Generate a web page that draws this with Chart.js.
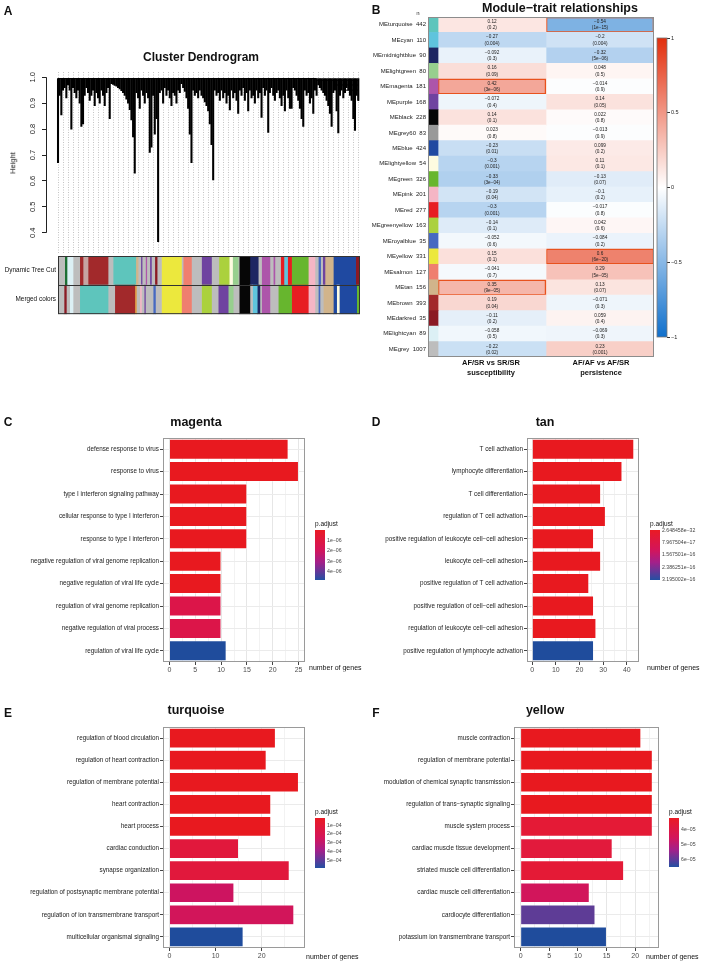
<!DOCTYPE html>
<html>
<head>
<meta charset="utf-8">
<title>WGCNA modules</title>
<script src="https://cdn.jsdelivr.net/npm/chart.js@4.4.1/dist/chart.umd.min.js"></script>
<style>
  body { margin: 0; width: 702px; height: 962px; position: relative; overflow: hidden; background: #fff; font-family: "Liberation Sans", Arial, sans-serif; color: #111; }
  canvas { position: absolute; }
  .t { position: absolute; white-space: nowrap; line-height: 1; will-change: transform; }
</style>
</head>
<body>
<script>
// ---------- Panel A: dendrogram ----------
const leafStep = 5;
const leafBottoms = [
  0.67, 0.93, 0.855, 0.95, 0.96, 0.92, 0.97, 0.95, 0.80, 0.96,
  0.94, 0.92, 0.95, 0.90, 0.81, 0.82, 0.93, 0.96, 0.94, 0.91,
  0.93, 0.95, 0.89, 0.94, 0.92, 0.90, 0.95, 0.93, 0.89, 0.94,
  0.96, 0.84, 0.975, 0.972, 0.968, 0.965, 0.96, 0.955, 0.948, 0.94,
  0.93, 0.915, 0.90, 0.875, 0.835, 0.77, 0.63, 0.94, 0.92, 0.88,
  0.95, 0.93, 0.90, 0.94, 0.92, 0.71, 0.73, 0.93, 0.78, 0.84,
  0.366, 0.94, 0.95, 0.90, 0.96, 0.93, 0.95, 0.92, 0.89, 0.94,
  0.93, 0.90, 0.95, 0.94, 0.975, 0.96, 0.945, 0.92, 0.88, 0.78,
  0.67, 0.95, 0.93, 0.94, 0.92, 0.95, 0.93, 0.92, 0.905, 0.89,
  0.87, 0.82, 0.74, 0.604, 0.95, 0.93, 0.94, 0.91, 0.95, 0.92,
  0.94, 0.90, 0.93, 0.874, 0.95, 0.92, 0.94, 0.91, 0.86, 0.95,
  0.93, 0.96, 0.91, 0.94, 0.87, 0.95, 0.92, 0.93, 0.90, 0.95,
  0.92, 0.94, 0.845, 0.96, 0.93, 0.95, 0.787, 0.94, 0.96, 0.93,
  0.91, 0.94, 0.95, 0.92, 0.89, 0.93, 0.87, 0.95, 0.92, 0.88,
  0.88, 0.96, 0.95, 0.93, 0.91, 0.88, 0.84, 0.81, 0.95, 0.93,
  0.94, 0.90, 0.92, 0.86, 0.95, 0.93, 0.97, 0.96, 0.95, 0.94,
  0.93, 0.91, 0.89, 0.86, 0.81, 0.94, 0.95, 0.87, 0.785, 0.93,
  0.95, 0.92, 0.94, 0.96, 0.95, 0.93, 0.91, 0.84, 0.795, 0.93,
  0.91
];
const dendroTop = 0.995;
const mergeSegments = [
  [0, 0.995, 775, 0.995],
  [775, 0.988, 900, 0.988],
  [825, 0.97, 900, 0.97],
  [860, 0.95, 900, 0.95],
  [900, 0.988, 900, 0.91]
];
const heightTicks = [0.4, 0.5, 0.6, 0.7, 0.8, 0.9, 1.0];

const colorRowLabels = ['Dynamic Tree Cut', 'Merged colors'];
const dynamicCutColors = ['grey','darkgreen','lightcyan','grey','brown','greypink','brown','grey','turquoise','tan','grey','purple','grey','magenta','grey','purple','grey','darkred','grey','yellow','grey','salmon','grey','purple','grey','greenyellow','lightyellow','lightgreen','grey','black','midnightblue','grey','magenta','grey','magenta','grey','red','cyan','red','green','pink','grey','royalblue','grey','purple','tan','blue','darkred'];
const dynamicCutEnds = [20,27,45,65,75,90,150,165,233,240,248,252,262,266,275,280,290,297,310,370,375,400,430,460,482,513,523,540,543,575,600,610,635,645,650,667,677,688,700,750,770,780,787,793,800,825,892,905];
const mergedColors = ['grey','darkred','grey','lightcyan','grey','turquoise','grey','brown','orange','grey','pink','grey','purple','grey','royalblue','grey','yellow','salmon','grey','greenyellow','grey','purple','lightgreen','grey','black','grey','cyan','midnightblue','grey','magenta','grey','green','red','pink','grey','royalblue','grey','tan','blue','lightyellow','blue','green'];
const mergedEnds = [18,25,35,45,65,150,170,230,235,245,250,258,262,285,292,310,370,400,430,460,480,510,525,543,575,583,597,605,610,635,660,700,750,770,780,785,795,825,835,843,895,905];

const palette = {
  grey: '#bdbdbd', greypink: '#c6a4a2', darkgreen: '#1d6f35', lightcyan: '#dcf0f5', brown: '#a2292b',
  turquoise: '#5ec5bc', tan: '#d1b48b', orange: '#dd9b45', purple: '#6f43a0', magenta: '#ad55aa',
  darkred: '#8b1a24', yellow: '#ece83d', salmon: '#ef7f6f', greenyellow: '#abd13d', lightyellow: '#fdfbe0',
  lightgreen: '#97cf8e', black: '#060606', midnightblue: '#1d2662', red: '#e71d22', cyan: '#5fc4dd',
  green: '#67b62e', pink: '#f5b6c5', royalblue: '#4669c1', blue: '#1f49a1', grey60: '#999999'
};

// ---------- Panel B: module-trait heatmap ----------
const modules = ['MEturquoise','MEcyan','MEmidnightblue','MElightgreen','MEmagenta','MEpurple','MEblack','MEgrey60','MEblue','MElightyellow','MEgreen','MEpink','MEred','MEgreenyellow','MEroyalblue','MEyellow','MEsalmon','MEtan','MEbrown','MEdarkred','MElightcyan','MEgrey'];
const moduleSizes = [442,110,90,80,181,168,228,83,424,54,326,201,277,163,35,331,127,156,393,35,89,1007];
const corrSusc = [0.12,-0.27,-0.092,0.16,0.42,-0.072,0.14,0.023,-0.23,-0.3,-0.33,-0.19,-0.3,-0.14,-0.052,0.15,-0.041,0.35,0.19,-0.11,-0.058,-0.22];
const pSusc = ['0.2','0.004','0.3','0.09','3e−06','0.4','0.1','0.8','0.01','0.001','3e−04','0.04','0.001','0.1','0.6','0.1','0.7','9e−05','0.04','0.2','0.5','0.02'];
const corrPers = [-0.54,-0.2,-0.32,0.048,-0.014,0.14,0.022,-0.013,0.099,0.11,-0.13,-0.1,-0.017,0.042,-0.084,0.6,0.29,0.13,-0.071,0.059,-0.069,0.23];
const pPers = ['1e−15','0.004','5e−06','0.5','0.9','0.05','0.8','0.9','0.2','0.1','0.07','0.2','0.8','0.6','0.2','6e−20','5e−05','0.07','0.3','0.4','0.3','0.001'];
const highlightSusc = ['MEmagenta', 'MEtan'];
const highlightPers = ['MEturquoise', 'MEyellow'];
const traitLabels = [['AF/SR vs SR/SR', 'susceptibility'], ['AF/AF vs AF/SR', 'persistence']];
const corrTicks = [-1, -0.5, 0, 0.5, 1];

// ---------- Panels C-F: GO enrichment ----------
const RED = '#e8191f', BLUE = '#1f4c9c';
const magentaTerms = ['defense response to virus','response to virus','type I interferon signaling pathway','cellular response to type I interferon','response to type I interferon','negative regulation of viral genome replication','negative regulation of viral life cycle','regulation of viral genome replication','negative regulation of viral process','regulation of viral life cycle'];
const magentaCounts = [23,25,15,15,15,10,10,10,10,11];
const magentaColors = [RED,RED,RED,RED,RED,RED,RED,'#dc1549','#dc1549',BLUE];

const tanTerms = ['T cell activation','lymphocyte differentiation','T cell differentiation','regulation of T cell activation','positive regulation of leukocyte cell−cell adhesion','leukocyte cell−cell adhesion','positive regulation of T cell activation','positive regulation of cell−cell adhesion','regulation of leukocyte cell−cell adhesion','positive regulation of lymphocyte activation'];
const tanCounts = [43,38,29,31,26,29,24,26,27,26];
const tanColors = [RED,RED,RED,RED,RED,RED,RED,RED,RED,BLUE];

const turquoiseTerms = ['regulation of blood circulation','regulation of heart contraction','regulation of membrane potential','heart contraction','heart process','cardiac conduction','synapse organization','regulation of postsynaptic membrane potential','regulation of ion transmembrane transport','multicellular organismal signaling'];
const turquoiseCounts = [23,21,28,22,22,15,26,14,27,16];
const turquoiseColors = [RED,RED,RED,RED,RED,'#e1183c','#e1183c','#cd1460','#d2155a',BLUE];

const yellowTerms = ['muscle contraction','regulation of membrane potential','modulation of chemical synaptic transmission','regulation of trans−synaptic signaling','muscle system process','cardiac muscle tissue development','striated muscle cell differentiation','cardiac muscle cell differentiation','cardiocyte differentiation','potassium ion transmembrane transport'];
const yellowCounts = [21,23,23,23,23,16,18,12,13,15];
const yellowColors = [RED,RED,RED,RED,'#e41a36','#e21a3c','#e41a36','#d2155b','#5e3c96',BLUE];

// ---------- setup ----------
Chart.defaults.font.family = '"Liberation Sans", Arial, sans-serif';
Chart.defaults.color = '#222';
Chart.defaults.animation = false;
Chart.defaults.plugins.legend.display = false;
Chart.defaults.plugins.tooltip.enabled = false;

function makeCanvas(left, top, w, h) {
  const c = document.createElement('canvas');
  c.width = w;
  c.height = h;
  c.style.left = left + 'px';
  c.style.top = top + 'px';
  c.style.width = w + 'px';
  c.style.height = h + 'px';
  document.body.appendChild(c);
  return c;
}

function addText(str, x, y, opts = {}) {
  const d = document.createElement('div');
  d.className = 't';
  d.textContent = str;
  const align = opts.align || 'center';
  const tx = align === 'center' ? '-50%' : align === 'right' ? '-100%' : '0';
  d.style.left = x + 'px';
  d.style.top = y + 'px';
  d.style.fontSize = (opts.size || 7) + 'px';
  d.style.fontWeight = opts.bold ? 'bold' : 'normal';
  d.style.color = opts.color || '#111';
  d.style.transform = `translate(${tx},-50%)` + (opts.rotate ? ' rotate(-90deg)' : '');
  document.body.appendChild(d);
}

function fmt(v) {
  return v < 0 ? '−' + String(-v) : String(v);
}

function mixColor(v) {
  const t = Math.min(1, Math.abs(v));
  const end = v >= 0 ? [226, 46, 12] : [16, 112, 204];
  const c = end.map(e => Math.round(255 + (e - 255) * t));
  return `rgb(${c[0]},${c[1]},${c[2]})`;
}

// ---------- Panel A ----------
addText('A', 8, 11, { size: 12, bold: true });
addText('Cluster Dendrogram', 201, 57, { size: 12, bold: true });
addText('Height', 13, 163, { size: 7.5, rotate: true });

const rotatedHeightLabels = {
  id: 'rotatedHeightLabels',
  afterDraw(chart) {
    const s = chart.scales.y;
    const ctx = chart.ctx;
    ctx.save();
    ctx.font = '7.5px "Liberation Sans"';
    ctx.fillStyle = '#222';
    ctx.textAlign = 'center';
    ctx.textBaseline = 'middle';
    s.ticks.forEach(t => {
      const y = s.getPixelForValue(t.value);
      ctx.save();
      ctx.translate(s.right - 13, y);
      ctx.rotate(-Math.PI / 2);
      ctx.fillText(t.value.toFixed(1), 0, 0);
      ctx.restore();
    });
    ctx.strokeStyle = '#222';
    ctx.lineWidth = 1;
    ctx.beginPath();
    ctx.moveTo(s.right + 0.5, s.getPixelForValue(heightTicks[0]));
    ctx.lineTo(s.right + 0.5, s.getPixelForValue(heightTicks[heightTicks.length - 1]));
    ctx.stroke();
    ctx.restore();
  }
};

const mergeDatasets = mergeSegments.map(seg => ({
  type: 'line',
  data: [{ x: seg[0], y: seg[1] }, { x: seg[2], y: seg[3] }],
  borderColor: '#000',
  borderWidth: 1,
  pointRadius: 0
}));

new Chart(makeCanvas(0, 60, 375, 200), {
  type: 'bar',
  data: {
    datasets: [
      ...mergeDatasets,
      {
        data: leafBottoms.map((b, i) => ({ x: i * leafStep, y: [b, dendroTop] })),
        backgroundColor: '#000',
        barThickness: 1.4
      }
    ]
  },
  options: {
    responsive: false,
    layout: { padding: { top: 12, right: 3, bottom: 7, left: 0 } },
    scales: {
      x: {
        type: 'linear', min: -36, max: 941, offset: false,
        ticks: { display: false, stepSize: 15 },
        grid: {
          offset: false, drawTicks: false,
          color: c => (c.tick && c.tick.value >= 0 && c.tick.value <= 905) ? '#c4c4c4' : 'transparent'
        },
        border: { display: false, dash: [1, 1.5] },
        afterFit: s => { s.height = 0; }
      },
      y: {
        min: 0.323, max: 1.02,
        afterBuildTicks: s => { s.ticks = heightTicks.map(v => ({ value: v })); },
        ticks: { color: 'transparent', font: { size: 7 } },
        grid: { drawOnChartArea: false, tickLength: 4, tickColor: '#222' },
        border: { display: false },
        afterFit: s => { s.width = 46; }
      }
    }
  },
  plugins: [rotatedHeightLabels]
});

function widths(ends) {
  return ends.map((e, i) => e - (i ? ends[i - 1] : 0));
}
const cutWidths = widths(dynamicCutEnds);
const mergedWidths = widths(mergedEnds);
const segCount = Math.max(cutWidths.length, mergedWidths.length);
const colorSegDatasets = [];
for (let k = 0; k < segCount; k++) {
  colorSegDatasets.push({
    data: [cutWidths[k] || 0, mergedWidths[k] || 0],
    backgroundColor: [palette[dynamicCutColors[k]] || '#fff', palette[mergedColors[k]] || '#fff'],
    borderWidth: 0,
    barPercentage: 1,
    categoryPercentage: 1
  });
}

const colorRowBox = {
  id: 'colorRowBox',
  afterDatasetsDraw(chart) {
    const a = chart.chartArea;
    const ctx = chart.ctx;
    ctx.save();
    ctx.strokeStyle = '#333';
    ctx.lineWidth = 1;
    ctx.strokeRect(a.left + 0.5, a.top + 0.5, a.width - 1, a.height - 1);
    const mid = Math.round((a.top + a.bottom) / 2) + 0.5;
    ctx.beginPath();
    ctx.moveTo(a.left, mid);
    ctx.lineTo(a.right, mid);
    ctx.stroke();
    ctx.restore();
  }
};

new Chart(makeCanvas(0, 250, 375, 70), {
  type: 'bar',
  data: { labels: colorRowLabels, datasets: colorSegDatasets },
  options: {
    indexAxis: 'y',
    responsive: false,
    layout: { padding: { top: 6, bottom: 4, right: 15, left: 0 } },
    scales: {
      x: { stacked: true, min: 0, max: 905, display: false },
      y: {
        stacked: true,
        grid: { display: false, drawTicks: false },
        border: { display: false },
        ticks: { font: { size: 6.4 }, color: '#111', padding: 2 },
        afterFit: s => { s.width = 58; }
      }
    }
  },
  plugins: [colorRowBox]
});

// ---------- Panel B ----------
addText('B', 376, 10, { size: 12, bold: true });
addText('Module−trait relationships', 560, 8, { size: 12.5, bold: true });
addText('n', 418, 13, { size: 6 });
traitLabels.forEach((lines, j) => {
  const cx = j === 0 ? 491 : 601;
  addText(lines[0], cx, 363, { size: 7.5, bold: true });
  addText(lines[1], cx, 373, { size: 7.5, bold: true });
});

const heatText = {
  id: 'heatText',
  afterDatasetsDraw(chart) {
    const ctx = chart.ctx;
    ctx.save();
    ctx.fillStyle = '#222';
    ctx.textAlign = 'center';
    ctx.textBaseline = 'middle';
    ctx.font = '4.7px "Liberation Sans"';
    [[1, corrSusc, pSusc], [2, corrPers, pPers]].forEach(([di, vals, ps]) => {
      chart.getDatasetMeta(di).data.forEach((el, i) => {
        const cx = (el.x + el.base) / 2;
        ctx.fillText(fmt(vals[i]), cx, el.y - 3);
        ctx.fillText('(' + ps[i] + ')', cx, el.y + 3.3);
      });
    });
    const a = chart.chartArea;
    ctx.strokeStyle = '#8c8c8c';
    ctx.lineWidth = 1;
    ctx.strokeRect(a.left + 0.5, a.top + 0.5, a.width - 1, a.height - 1);
    ctx.restore();
  }
};

const stripWidth = 0.093;
function cellBorder(list) {
  return c => list.includes(modules[c.dataIndex]) ? '#e8521e' : 'rgba(0,0,0,0)';
}
function cellBorderWidth(list) {
  return c => list.includes(modules[c.dataIndex]) ? 1.6 : 0;
}

new Chart(makeCanvas(330, 0, 330, 370), {
  type: 'bar',
  data: {
    labels: modules,
    datasets: [
      {
        data: modules.map(() => [-stripWidth, 0]),
        backgroundColor: modules.map(m => palette[m.slice(2)]),
        borderWidth: 0
      },
      {
        data: modules.map(() => [0, 1]),
        backgroundColor: corrSusc.map(mixColor),
        borderColor: cellBorder(highlightSusc),
        borderWidth: cellBorderWidth(highlightSusc),
        borderSkipped: false
      },
      {
        data: modules.map(() => [1, 2]),
        backgroundColor: corrPers.map(mixColor),
        borderColor: cellBorder(highlightPers),
        borderWidth: cellBorderWidth(highlightPers),
        borderSkipped: false
      }
    ]
  },
  options: {
    indexAxis: 'y',
    responsive: false,
    layout: { padding: { top: 17, bottom: 13, right: 6, left: 0 } },
    datasets: { bar: { grouped: false, barPercentage: 1, categoryPercentage: 1 } },
    scales: {
      x: { min: -stripWidth, max: 2, display: false },
      y: {
        grid: { display: false, drawTicks: false },
        border: { display: false },
        ticks: {
          font: { size: 6 }, color: '#222', padding: 2, autoSkip: false,
          callback: (v, i) => modules[i] + '  ' + moduleSizes[i]
        },
        afterFit: s => { s.width = 98; }
      }
    }
  },
  plugins: [heatText]
});

// colour key for panel B
const outline = {
  id: 'outline',
  afterDatasetsDraw(chart) {
    const a = chart.chartArea;
    const ctx = chart.ctx;
    ctx.save();
    ctx.strokeStyle = '#777';
    ctx.lineWidth = 0.8;
    ctx.strokeRect(a.left, a.top, a.width, a.height);
    ctx.restore();
  }
};

new Chart(makeCanvas(655, 30, 47, 315), {
  type: 'bar',
  data: {
    labels: ['r'],
    datasets: [{
      data: [[-1, 1]],
      barPercentage: 1, categoryPercentage: 1, borderWidth: 0,
      backgroundColor: c => {
        const a = c.chart.chartArea;
        if (!a) return '#fff';
        const g = c.chart.ctx.createLinearGradient(0, a.top, 0, a.bottom);
        corrTicks.slice().reverse().forEach((v, i) => g.addColorStop(i / (corrTicks.length - 1), mixColor(v)));
        return g;
      }
    }]
  },
  options: {
    responsive: false,
    layout: { padding: { top: 8, bottom: 8, left: 2, right: 0 } },
    scales: {
      x: { display: false },
      y: {
        position: 'right', min: -1, max: 1,
        afterBuildTicks: s => { s.ticks = corrTicks.map(v => ({ value: v })); },
        ticks: { font: { size: 5.5 }, color: '#222', padding: 1, callback: v => fmt(v) },
        grid: { drawOnChartArea: false, tickLength: 3, tickColor: '#333' },
        border: { display: false },
        afterFit: s => { s.width = 35; }
      }
    }
  },
  plugins: [outline]
});

// ---------- Panels C-F ----------
const panelBorder = {
  id: 'panelBorder',
  afterDatasetsDraw(chart) {
    const a = chart.chartArea;
    const ctx = chart.ctx;
    ctx.save();
    ctx.strokeStyle = '#9a9a9a';
    ctx.lineWidth = 1;
    ctx.strokeRect(a.left + 0.5, a.top + 0.5, a.width - 1, a.height - 1);
    ctx.restore();
  }
};

function goPanel(cfg) {
  const allTicks = cfg.major.concat(cfg.minor).sort((a, b) => a - b);
  new Chart(makeCanvas(cfg.left, cfg.top, cfg.width, cfg.height), {
    type: 'bar',
    data: {
      labels: cfg.terms,
      datasets: [{
        data: cfg.counts,
        backgroundColor: cfg.colors,
        borderColor: 'rgba(255,255,255,0.55)',
        borderWidth: 0.6,
        barPercentage: 0.9,
        categoryPercentage: 1
      }]
    },
    options: {
      indexAxis: 'y',
      responsive: false,
      layout: { padding: { top: 8, right: 7, bottom: 0, left: 0 } },
      scales: {
        x: {
          min: cfg.min, max: cfg.max,
          afterBuildTicks: s => { s.ticks = allTicks.map(v => ({ value: v })); },
          ticks: {
            autoSkip: false, maxRotation: 0, font: { size: 7 }, color: '#4d4d4d', padding: 1,
            callback: v => cfg.major.includes(v) ? String(v) : ''
          },
          grid: {
            color: c => (c.tick && cfg.major.includes(c.tick.value)) ? '#e6e6e6' : '#f2f2f2',
            tickLength: 3,
            tickColor: c => (c.tick && cfg.major.includes(c.tick.value)) ? '#444' : 'transparent'
          },
          border: { display: false },
          afterFit: s => { s.height = 14; }
        },
        y: {
          grid: { offset: false, color: '#ebebeb', tickLength: 3, tickColor: '#444' },
          border: { display: false },
          ticks: { font: { size: 6.3 }, color: '#1a1a1a', padding: 1, autoSkip: false },
          afterFit: s => { s.width = cfg.axisWidth; }
        }
      }
    },
    plugins: [panelBorder]
  });
}

function pLegend(cfg) {
  addText('p.adjust', cfg.x, cfg.y - 6, { size: 6.5, align: 'left' });
  new Chart(makeCanvas(cfg.x, cfg.y - 5, cfg.w, cfg.h + 10), {
    type: 'bar',
    data: {
      labels: ['p'],
      datasets: [{
        data: [[cfg.min, cfg.max]],
        barPercentage: 1, categoryPercentage: 1, borderWidth: 0,
        backgroundColor: c => {
          const a = c.chart.chartArea;
          if (!a) return RED;
          const g = c.chart.ctx.createLinearGradient(0, a.top, 0, a.bottom);
          g.addColorStop(0, '#ea1a24');
          g.addColorStop(0.4, '#d3155b');
          g.addColorStop(0.65, '#a3208a');
          g.addColorStop(0.85, '#5d3a9a');
          g.addColorStop(1, '#2450a2');
          return g;
        }
      }]
    },
    options: {
      responsive: false,
      layout: { padding: { top: 5, bottom: 5, left: 0, right: 0 } },
      scales: {
        x: { display: false },
        y: {
          position: 'right', reverse: true, min: cfg.min, max: cfg.max,
          afterBuildTicks: s => { s.ticks = cfg.ticks.map(v => ({ value: v })); },
          ticks: { font: { size: 5.2 }, color: '#444', padding: 2, callback: (v, i) => cfg.labels[i] },
          grid: { display: false, drawTicks: false },
          border: { display: false },
          afterFit: s => { s.width = cfg.w - 10; }
        }
      }
    }
  });
}

// C: magenta
addText('C', 8, 422, { size: 12, bold: true });
addText('magenta', 196, 422, { size: 12.5, bold: true });
addText('number of genes', 309, 667, { size: 7, align: 'left' });
goPanel({ left: 0, top: 430, width: 312, height: 246, axisWidth: 163, terms: magentaTerms, counts: magentaCounts, colors: magentaColors, min: -1.25, max: 26.25, major: [0, 5, 10, 15, 20, 25], minor: [2.5, 7.5, 12.5, 17.5, 22.5] });
pLegend({ x: 315, y: 530, w: 40, h: 50, min: 0, max: 4.78e-6, ticks: [1e-6, 2e-6, 3e-6, 4e-6], labels: ['1e−06', '2e−06', '3e−06', '4e−06'] });

// D: tan
addText('D', 376, 422, { size: 12, bold: true });
addText('tan', 545, 422, { size: 12.5, bold: true });
addText('number of genes', 647, 667, { size: 7, align: 'left' });
goPanel({ left: 350, top: 430, width: 296, height: 246, axisWidth: 177, terms: tanTerms, counts: tanCounts, colors: tanColors, min: -2.15, max: 45.15, major: [0, 10, 20, 30, 40], minor: [5, 15, 25, 35, 45] });
pLegend({ x: 650, y: 530, w: 52, h: 50, min: 2.648458e-32, max: 3.195002e-16, ticks: [2.648458e-32, 7.967504e-17, 1.567501e-16, 2.386251e-16, 3.195002e-16], labels: ['2.648458e−32', '7.967504e−17', '1.567501e−16', '2.386251e−16', '3.195002e−16'] });

// E: turquoise
addText('E', 8, 713, { size: 12, bold: true });
addText('turquoise', 196, 710, { size: 12.5, bold: true });
addText('number of genes', 306, 956, { size: 7, align: 'left' });
goPanel({ left: 0, top: 719, width: 312, height: 243, axisWidth: 163, terms: turquoiseTerms, counts: turquoiseCounts, colors: turquoiseColors, min: -1.4, max: 29.4, major: [0, 10, 20], minor: [5, 15, 25] });
pLegend({ x: 315, y: 818, w: 40, h: 50, min: 0.22e-4, max: 5.78e-4, ticks: [1e-4, 2e-4, 3e-4, 4e-4, 5e-4], labels: ['1e−04', '2e−04', '3e−04', '4e−04', '5e−04'] });

// F: yellow
addText('F', 376, 713, { size: 12, bold: true });
addText('yellow', 545, 710, { size: 12.5, bold: true });
addText('number of genes', 646, 956, { size: 7, align: 'left' });
goPanel({ left: 350, top: 719, width: 316, height: 243, axisWidth: 164, terms: yellowTerms, counts: yellowCounts, colors: yellowColors, min: -1.15, max: 24.15, major: [0, 5, 10, 15, 20], minor: [2.5, 7.5, 12.5, 17.5, 22.5] });
pLegend({ x: 669, y: 818, w: 33, h: 49, min: 3.2e-5, max: 6.47e-5, ticks: [4e-5, 5e-5, 6e-5], labels: ['4e−05', '5e−05', '6e−05'] });
</script>
</body>
</html>
